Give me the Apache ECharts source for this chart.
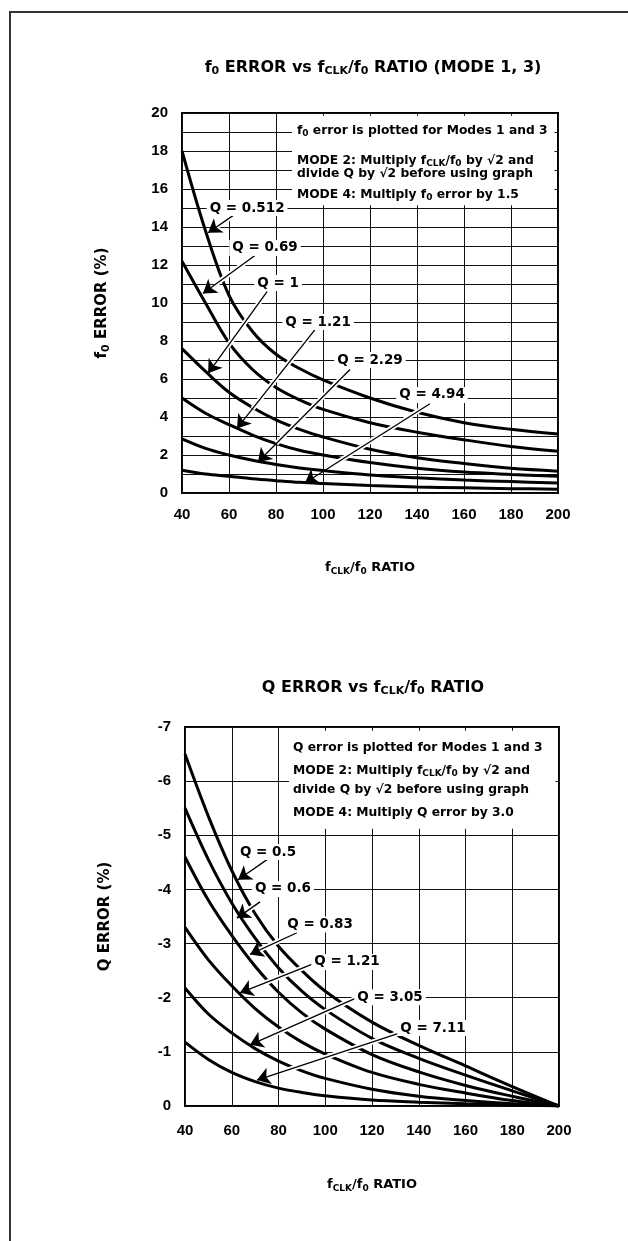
<!DOCTYPE html>
<html><head><meta charset="utf-8">
<script src="https://cdn.jsdelivr.net/npm/echarts@6/dist/echarts.min.js"></script>
<style>html,body{margin:0;padding:0;background:#fff;}#c{width:628px;height:1241px;}</style>
</head><body><div id="c"></div>
<script>
// ---------- DATA ----------
const ratio = [40, 50, 60, 70, 80, 90, 100, 120, 140, 160, 180, 200];

// f0 error (%) vs fCLK/f0 ratio
const f0Q = ['0.512', '0.69', '1', '1.21', '2.29', '4.94'];
const f0Err_Q0512 = [18.0, 13.8, 10.4, 8.5, 7.3, 6.55, 5.95, 5.0, 4.25, 3.7, 3.35, 3.1];
const f0Err_Q069  = [12.2, 10.0, 7.9, 6.5, 5.55, 4.9, 4.4, 3.7, 3.2, 2.8, 2.45, 2.2];
const f0Err_Q1    = [7.6, 6.4, 5.3, 4.5, 3.85, 3.35, 2.95, 2.3, 1.85, 1.55, 1.3, 1.15];
const f0Err_Q121  = [5.0, 4.2, 3.6, 3.05, 2.6, 2.25, 2.0, 1.6, 1.3, 1.1, 0.98, 0.88];
const f0Err_Q229  = [2.85, 2.35, 2.0, 1.72, 1.5, 1.32, 1.18, 0.95, 0.8, 0.68, 0.6, 0.52];
const f0Err_Q494  = [1.2, 1.0, 0.88, 0.75, 0.65, 0.56, 0.5, 0.4, 0.32, 0.27, 0.23, 0.2];
const f0Curves = [f0Err_Q0512, f0Err_Q069, f0Err_Q1, f0Err_Q121, f0Err_Q229, f0Err_Q494];
const f0LabelAt  = [[67.7, 15.0], [75.3, 12.9], [80.9, 11.05], [97.9, 9.0], [120, 7.0], [146.4, 5.16]];
const f0ArrowFrom = [[61.7, 14.6], [73.2, 12.7], [76.2, 10.6], [96.6, 8.6], [111.5, 6.5], [145.5, 4.7]];
const f0ArrowTo   = [[51.1, 13.7], [48.9, 10.5], [51.1, 6.3], [63.4, 3.4], [72.3, 1.63], [92.3, 0.53]];

// Q error (%) vs fCLK/f0 ratio
const qQ = ['0.5', '0.6', '0.83', '1.21', '3.05', '7.11'];
const qErr_Q05  = [-6.5, -5.35, -4.35, -3.55, -2.95, -2.5, -2.12, -1.55, -1.12, -0.74, -0.36, 0];
const qErr_Q06  = [-5.5, -4.55, -3.75, -3.1, -2.55, -2.12, -1.78, -1.25, -0.88, -0.57, -0.28, 0];
const qErr_Q083 = [-4.6, -3.8, -3.15, -2.58, -2.1, -1.72, -1.42, -0.95, -0.63, -0.38, -0.18, 0];
const qErr_Q121 = [-3.3, -2.7, -2.22, -1.8, -1.46, -1.18, -0.96, -0.62, -0.4, -0.24, -0.1, 0];
const qErr_Q305 = [-2.18, -1.7, -1.35, -1.06, -0.83, -0.65, -0.51, -0.31, -0.18, -0.1, -0.04, 0];
const qErr_Q711 = [-1.18, -0.86, -0.62, -0.45, -0.33, -0.25, -0.19, -0.11, -0.07, -0.04, -0.02, 0];
const qCurves = [qErr_Q05, qErr_Q06, qErr_Q083, qErr_Q121, qErr_Q305, qErr_Q711];
const qLabelAt   = [[75.5, -4.69], [81.9, -4.01], [97.8, -3.35], [109.3, -2.66], [127.7, -2.01], [146.1, -1.44]];
const qArrowFrom = [[75.1, -4.55], [72.1, -3.77], [87.9, -3.2], [95.6, -2.64], [113.6, -2.0], [132, -1.35]];
const qArrowTo   = [[62.7, -4.18], [62.2, -3.47], [67.8, -2.8], [63.5, -2.09], [67.8, -1.13], [70.8, -0.48]];

// notes
const f0Notes = [
  '{n|f}{s|0}{n| error is plotted for Modes 1 and 3}',
  '{n|MODE 2: Multiply f}{s|CLK}{n|/f}{s|0}{n| by √2 and}',
  '{n|divide Q by √2 before using graph}',
  '{n|MODE 4: Multiply f}{s|0}{n| error by 1.5}'
];
const f0NoteAt = [[88.9, 19.07], [88.9, 17.5], [88.9, 16.8], [88.9, 15.7]];
const f0NoteBox = [[86.8, 19.85], [198.5, 15.15]];
const qNotes = [
  '{n|Q error is plotted for Modes 1 and 3}',
  '{n|MODE 2: Multiply f}{s|CLK}{n|/f}{s|0}{n| by √2 and}',
  '{n|divide Q by √2 before using graph}',
  '{n|MODE 4: Multiply Q error by 3.0}'
];
const qNoteAt = [[86.2, -6.61], [86.2, -6.19], [86.2, -5.84], [86.2, -5.41]];
const qNoteBox = [[84.5, -6.93], [198.5, -5.12]];

// ---------- STYLE ----------
const F = '"DejaVu Sans", sans-serif';
const FT = '"Liberation Sans", Arial, sans-serif';
function rich(size) {
  return {
    n: { fontSize: size, fontWeight: 'bold', fontFamily: F, color: '#000' },
    s: { fontSize: Math.round(size * 0.7), fontWeight: 'bold', fontFamily: F, color: '#000', padding: [Math.round(size * 0.5), 0, 0, 0] }
  };
}

function xAxis(gi, gap, margin) {
  return {
    type: 'value', gridIndex: gi, min: 40, max: 200, interval: 20,
    axisLine: { show: false }, axisTick: { show: false },
    splitLine: { show: true, lineStyle: { color: '#111', width: 1 } },
    axisLabel: { margin: margin, color: '#000', fontFamily: FT, fontWeight: 'bold', fontSize: 15 },
    name: '{n|f}{s|CLK}{n|/f}{s|0}{n| RATIO}', nameLocation: 'middle', nameGap: gap,
    nameTextStyle: { rich: rich(13) }
  };
}

function buildSeries(gi, curves, labelAt, labels, from, to, notes, noteAt, box) {
  const s = [];
  curves.forEach((vals) => {
    s.push({
      type: 'line', xAxisIndex: gi, yAxisIndex: gi, smooth: 0.35, showSymbol: false,
      data: ratio.map((x, k) => [x, vals[k]]), z: 2, silent: true,
      lineStyle: { color: '#000', width: 3 }
    });
  });
  s.push({
    type: 'line', xAxisIndex: gi, yAxisIndex: gi, data: [], z: 1, silent: true,
    markArea: { silent: true, itemStyle: { color: '#fff' },
      data: [[{ coord: box[0] }, { coord: box[1] }]] }
  });
  s.push({
    type: 'line', xAxisIndex: gi, yAxisIndex: gi, data: [], z: 3, silent: true,
    markLine: { silent: true, symbol: ['none', 'none'], label: { show: false },
      lineStyle: { color: '#fff', width: 5, type: 'solid' },
      data: from.map((p, i) => [{ coord: p }, { coord: [p[0] + 0.8 * (to[i][0] - p[0]), p[1] + 0.8 * (to[i][1] - p[1])] }]) }
  });
  s.push({
    type: 'line', xAxisIndex: gi, yAxisIndex: gi, data: [], z: 4, silent: true,
    itemStyle: { color: '#000' },
    markLine: { silent: true, symbol: ['none', 'arrow'], symbolSize: 13, label: { show: false },
      itemStyle: { color: '#000' },
      lineStyle: { color: '#000', width: 1.3, type: 'solid' },
      data: from.map((p, i) => [{ coord: p }, { coord: to[i] }]) }
  });
  s.push({
    type: 'scatter', xAxisIndex: gi, yAxisIndex: gi, symbolSize: 0, z: 5, silent: true,
    itemStyle: { opacity: 1, color: '#000' },
    data: labelAt.map((p, i) => ({ value: p, name: 'Q = ' + labels[i] })),
    label: { show: true, position: 'inside', formatter: '{b}', color: '#000', opacity: 1, fontFamily: F, fontWeight: 'bold', fontSize: 13.5,
      textBorderWidth: 0, backgroundColor: '#fff', padding: [1, 3] }
  });
  s.push({
    type: 'scatter', xAxisIndex: gi, yAxisIndex: gi, symbolSize: 0, z: 5, silent: true,
    itemStyle: { opacity: 1, color: '#000' },
    data: noteAt.map((p, i) => ({ value: p, name: notes[i] })),
    label: { show: true, position: 'right', distance: 0, opacity: 1, textBorderWidth: 0, formatter: (p) => p.name, rich: rich(12.3) }
  });
  return s;
}

const chart = echarts.init(document.getElementById('c'), null, { renderer: 'canvas' });
chart.setOption({
  animation: false,
  backgroundColor: '#fff',
  title: [
    { text: '{n|f}{s|0}{n| ERROR vs f}{s|CLK}{n|/f}{s|0}{n| RATIO (MODE 1, 3)}', left: 368, top: 53, textAlign: 'center',
      textStyle: { rich: rich(16) } },
    { text: '{n|Q ERROR vs f}{s|CLK}{n|/f}{s|0}{n| RATIO}', left: 368, top: 673, textAlign: 'center',
      textStyle: { rich: rich(16) } }
  ],
  grid: [
    { left: 182, top: 113, width: 376, height: 380, show: true, borderColor: '#000', borderWidth: 2, backgroundColor: 'transparent' },
    { left: 185, top: 727, width: 374, height: 379, show: true, borderColor: '#000', borderWidth: 2, backgroundColor: 'transparent' }
  ],
  xAxis: [xAxis(0, 67, 14), xAxis(1, 71, 17)],
  yAxis: [
    { type: 'value', gridIndex: 0, min: 0, max: 20, interval: 1,
      axisLine: { show: false }, axisTick: { show: false },
      splitLine: { show: true, lineStyle: { color: '#111', width: 1 } },
      axisLabel: { margin: 14, color: '#000', fontFamily: FT, fontWeight: 'bold', fontSize: 15,
        formatter: (v) => (v % 2 === 0 ? String(v) : '') },
      name: '{n|f}{s|0}{n| ERROR (%)}', nameLocation: 'middle', nameGap: 70, nameRotate: 90,
      nameTextStyle: { rich: rich(15) } },
    { type: 'value', gridIndex: 1, min: -7, max: 0, interval: 1, inverse: true,
      axisLine: { show: false }, axisTick: { show: false },
      splitLine: { show: true, lineStyle: { color: '#111', width: 1 } },
      axisLabel: { margin: 14, color: '#000', fontFamily: FT, fontWeight: 'bold', fontSize: 15 },
      name: '{n|Q ERROR (%)}', nameLocation: 'middle', nameGap: 72, nameRotate: 90,
      nameTextStyle: { rich: rich(15) } }
  ],
  graphic: [
    { type: 'polyline', silent: true, shape: { points: [[10, 1241], [10, 12], [628, 12]] },
      style: { stroke: '#333', lineWidth: 2, fill: null } }
  ],
  series: [].concat(
    buildSeries(0, f0Curves, f0LabelAt, f0Q, f0ArrowFrom, f0ArrowTo, f0Notes, f0NoteAt, f0NoteBox),
    buildSeries(1, qCurves, qLabelAt, qQ, qArrowFrom, qArrowTo, qNotes, qNoteAt, qNoteBox)
  )
});
</script></body></html>
